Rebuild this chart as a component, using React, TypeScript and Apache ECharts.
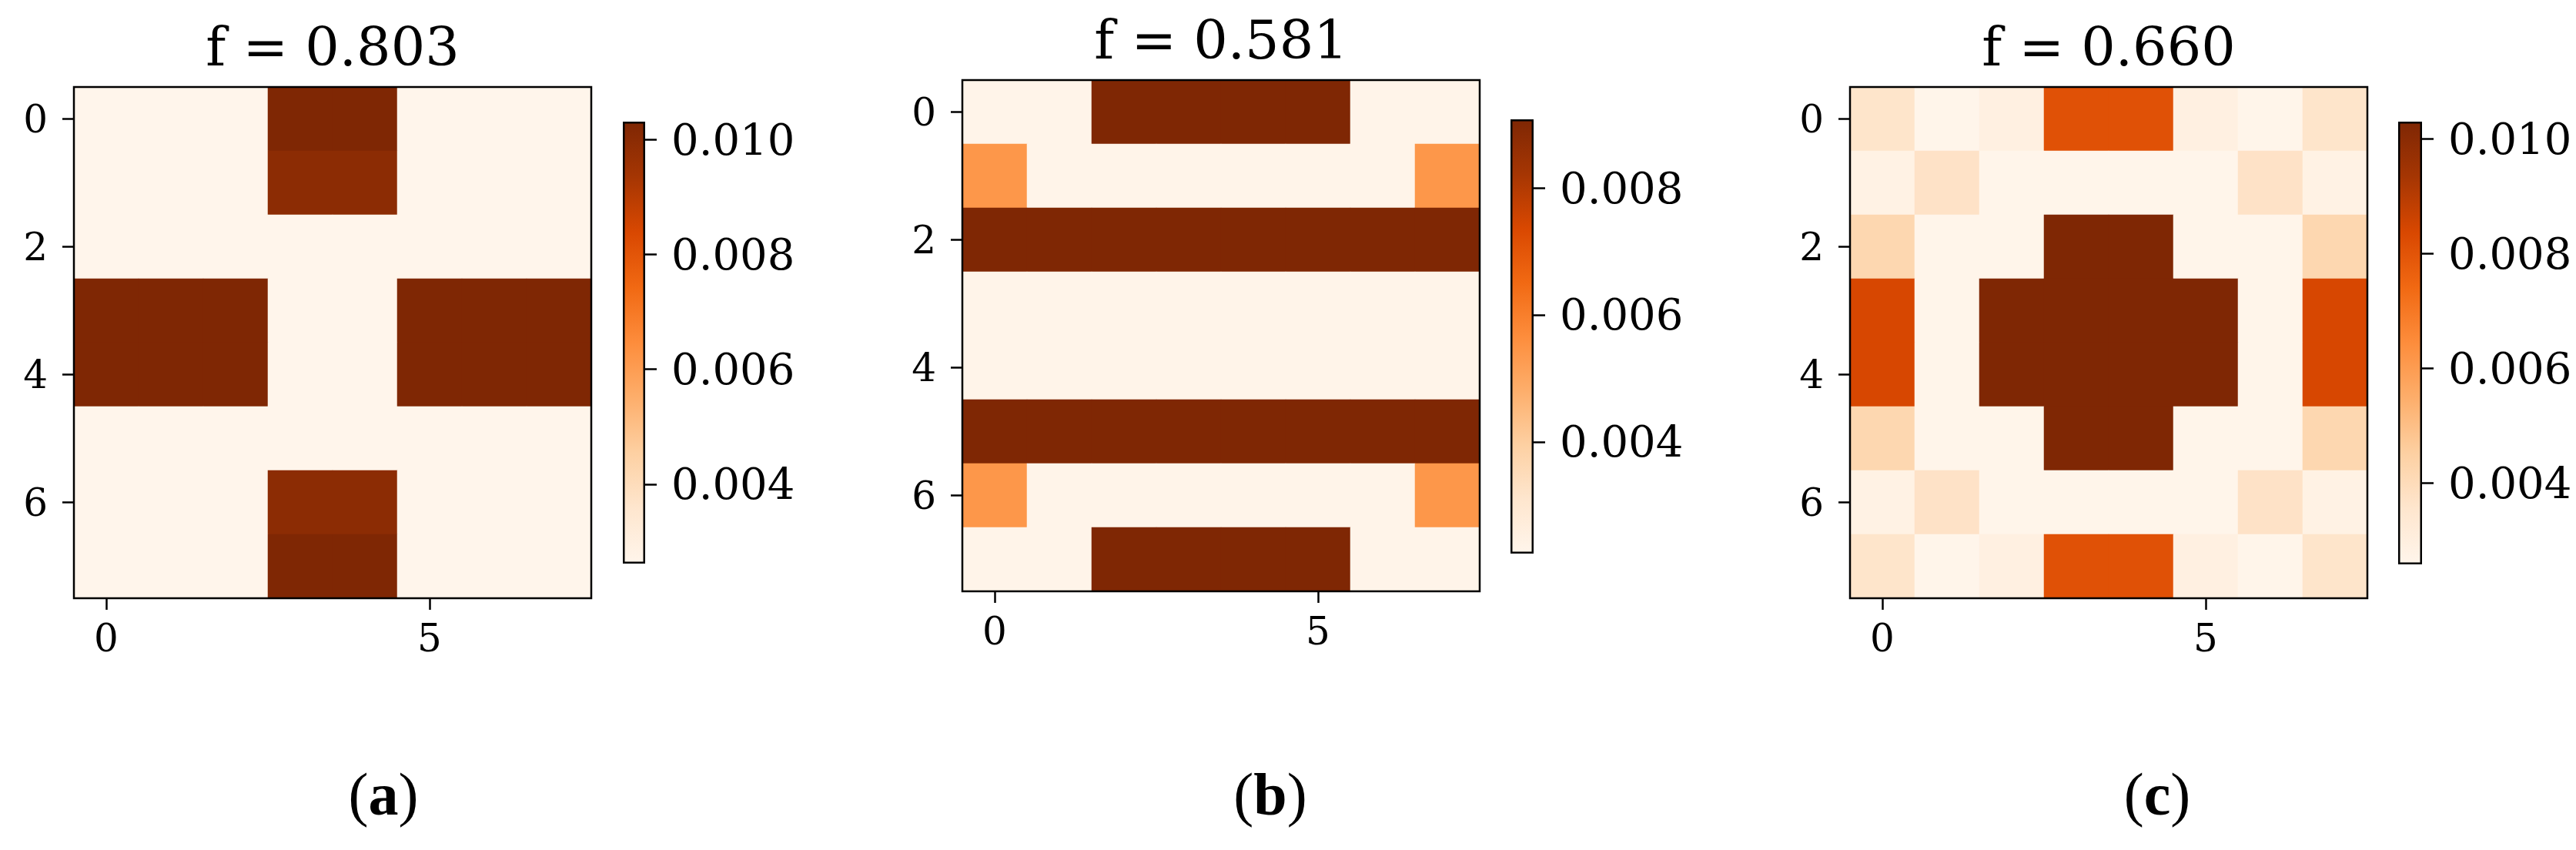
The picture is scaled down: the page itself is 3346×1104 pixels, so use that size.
import React, { useEffect, useRef } from 'react';
import * as echarts from 'echarts';

// Matplotlib "Oranges" colormap stops
const ORANGES = ['#fff5eb', '#fee6ce', '#fdd0a2', '#fdae6b', '#fd8d3c', '#f16913', '#d94801', '#a63603', '#7f2704'];

const xCategories = ['0', '1', '2', '3', '4', '5', '6', '7'];
const yCategories = ['0', '1', '2', '3', '4', '5', '6', '7'];
const xTickLabels = ['0', '5'];
const yTickLabels = ['0', '2', '4', '6'];

const titles = ['f = 0.803', 'f = 0.581', 'f = 0.660'];
const panelLetters = ['a', 'b', 'c'];

const colorbarRanges: [number, number][] = [
  [0.00262, 0.01031],
  [0.00224, 0.00908],
  [0.00258, 0.0103],
];
const colorbarTicks = [
  [0.004, 0.006, 0.008, 0.01],
  [0.004, 0.006, 0.008],
  [0.004, 0.006, 0.008, 0.01],
];

// rows top (0) -> bottom (7), columns left (0) -> right (7)
const heatA = [
  [0.0026, 0.0026, 0.0026, 0.0103, 0.0103, 0.0026, 0.0026, 0.0026],
  [0.0026, 0.0026, 0.0026, 0.01, 0.01, 0.0026, 0.0026, 0.0026],
  [0.0026, 0.0026, 0.0026, 0.0026, 0.0026, 0.0026, 0.0026, 0.0026],
  [0.0103, 0.0103, 0.0103, 0.0026, 0.0026, 0.0103, 0.0103, 0.0103],
  [0.0103, 0.0103, 0.0103, 0.0026, 0.0026, 0.0103, 0.0103, 0.0103],
  [0.0026, 0.0026, 0.0026, 0.0026, 0.0026, 0.0026, 0.0026, 0.0026],
  [0.0026, 0.0026, 0.0026, 0.01, 0.01, 0.0026, 0.0026, 0.0026],
  [0.0026, 0.0026, 0.0026, 0.0103, 0.0103, 0.0026, 0.0026, 0.0026],
];

const heatB = [
  [0.0023, 0.0023, 0.0091, 0.0091, 0.0091, 0.0091, 0.0023, 0.0023],
  [0.0054, 0.0023, 0.0023, 0.0023, 0.0023, 0.0023, 0.0023, 0.0054],
  [0.0091, 0.0091, 0.0091, 0.0091, 0.0091, 0.0091, 0.0091, 0.0091],
  [0.0023, 0.0023, 0.0023, 0.0023, 0.0023, 0.0023, 0.0023, 0.0023],
  [0.0023, 0.0023, 0.0023, 0.0023, 0.0023, 0.0023, 0.0023, 0.0023],
  [0.0091, 0.0091, 0.0091, 0.0091, 0.0091, 0.0091, 0.0091, 0.0091],
  [0.0054, 0.0023, 0.0023, 0.0023, 0.0023, 0.0023, 0.0023, 0.0054],
  [0.0023, 0.0023, 0.0091, 0.0091, 0.0091, 0.0091, 0.0023, 0.0023],
];

const heatC = [
  [0.0036, 0.0026, 0.0029, 0.0081, 0.0081, 0.0029, 0.0026, 0.0036],
  [0.0028, 0.0037, 0.0026, 0.0026, 0.0026, 0.0026, 0.0037, 0.0028],
  [0.0042, 0.0026, 0.0026, 0.0103, 0.0103, 0.0026, 0.0026, 0.0042],
  [0.0084, 0.0026, 0.0103, 0.0103, 0.0103, 0.0103, 0.0026, 0.0084],
  [0.0084, 0.0026, 0.0103, 0.0103, 0.0103, 0.0103, 0.0026, 0.0084],
  [0.0042, 0.0026, 0.0026, 0.0103, 0.0103, 0.0026, 0.0026, 0.0042],
  [0.0028, 0.0037, 0.0026, 0.0026, 0.0026, 0.0026, 0.0037, 0.0028],
  [0.0036, 0.0026, 0.0029, 0.0081, 0.0081, 0.0029, 0.0026, 0.0036],
];

const heatmaps = [heatA, heatB, heatC];

// layout (pixels) — cell sizes kept integral so adjacent cells meet without seams
const panelGrids = [
  { left: 96, top: 113, width: 672, height: 664 },
  { left: 1250, top: 104, width: 672, height: 664 },
  { left: 2403, top: 113, width: 672, height: 664 },
];
const cbGrids = [
  { left: 809, top: 158, width: 29, height: 574 },
  { left: 1962, top: 155, width: 30, height: 564 },
  { left: 3115, top: 158, width: 31, height: 575 },
];
const letterCenters = [498, 1650, 2802];
const letterY = 1031;

const SERIF = '"DejaVu Serif", serif';
const TICK_FONT = 50;
const CB_FONT = 56;
const TITLE_FONT = 70;

export default function App() {
  const ref = useRef<HTMLDivElement>(null);

  useEffect(() => {
    document.body.style.margin = '0';
    if (!ref.current) return;
    const chart = echarts.init(ref.current, undefined, { renderer: 'svg' });

    const grid: any[] = [];
    const xAxis: any[] = [];
    const yAxis: any[] = [];
    const series: any[] = [];
    const visualMap: any[] = [];
    const graphic: any[] = [];

    const tickStyle = { color: '#000', width: 2.5 };

    panelGrids.forEach((g) => {
      grid.push({
        ...g,
        show: true,
        backgroundColor: 'transparent',
        borderColor: '#000',
        borderWidth: 2.5,
        z: 10,
      });
    });
    cbGrids.forEach((g) => {
      grid.push({ ...g, show: false });
    });

    panelGrids.forEach((g, i) => {
      const xShow = (idx: number) => xTickLabels.includes(xCategories[idx]);
      const yShow = (idx: number) => yTickLabels.includes(yCategories[idx]);
      xAxis.push({
        type: 'category',
        gridIndex: i,
        data: xCategories,
        position: 'bottom',
        axisLine: { show: false },
        axisTick: { show: true, alignWithLabel: true, length: 15, interval: xShow, lineStyle: tickStyle },
        axisLabel: { interval: xShow, color: '#000', fontFamily: SERIF, fontSize: TICK_FONT, margin: 27 },
        splitLine: { show: false },
      });
      yAxis.push({
        type: 'category',
        gridIndex: i,
        data: yCategories,
        inverse: true,
        axisLine: { show: false },
        axisTick: { show: true, alignWithLabel: true, length: 15, interval: yShow, lineStyle: tickStyle },
        axisLabel: { interval: yShow, color: '#000', fontFamily: SERIF, fontSize: TICK_FONT, margin: 34 },
        splitLine: { show: false },
      });
      const [vmin, vmax] = colorbarRanges[i];
      series.push({
        type: 'heatmap',
        xAxisIndex: i,
        yAxisIndex: i,
        data: heatmaps[i].flatMap((row, r) => row.map((v, c) => [c, r, v])),
        itemStyle: { borderWidth: 0 },
        emphasis: { disabled: true },
      });
      visualMap.push({
        type: 'continuous',
        show: false,
        seriesIndex: series.length - 1,
        dimension: 2,
        min: vmin,
        max: vmax,
        inRange: { color: ORANGES },
      });
    });

    cbGrids.forEach((g, i) => {
      const gi = panelGrids.length + i;
      const [vmin, vmax] = colorbarRanges[i];
      xAxis.push({
        type: 'category',
        gridIndex: gi,
        data: ['cb'],
        show: false,
      });
      yAxis.push({
        type: 'value',
        gridIndex: gi,
        min: vmin,
        max: vmax,
        position: 'right',
        axisLine: { show: false },
        splitLine: { show: false },
        axisTick: { show: true, length: 15, customValues: colorbarTicks[i], lineStyle: tickStyle },
        axisLabel: {
          show: true,
          customValues: colorbarTicks[i],
          formatter: (v: number) => v.toFixed(3),
          color: '#000',
          fontFamily: SERIF,
          fontSize: CB_FONT,
          margin: 34,
        },
      });
      const stack = 'cb' + i;
      series.push({
        type: 'bar',
        xAxisIndex: gi,
        yAxisIndex: gi,
        stack,
        barWidth: '100%',
        data: [vmin],
        itemStyle: { color: 'rgba(0,0,0,0)' },
        silent: true,
      });
      series.push({
        type: 'bar',
        xAxisIndex: gi,
        yAxisIndex: gi,
        stack,
        barWidth: '100%',
        data: [vmax - vmin],
        silent: true,
        itemStyle: {
          color: new echarts.graphic.LinearGradient(
            0, 1, 0, 0,
            ORANGES.map((c, k) => ({ offset: k / (ORANGES.length - 1), color: c }))
          ),
          borderColor: '#000',
          borderWidth: 2.5,
        },
      });
    });

    panelGrids.forEach((g, i) => {
      graphic.push({
        type: 'text',
        x: g.left + g.width / 2,
        y: g.top - 28 - 0.346 * TITLE_FONT,
        style: {
          text: titles[i],
          font: `${TITLE_FONT}px "DejaVu Serif"`,
          fill: '#000',
          align: 'center',
          textAlign: 'center',
          verticalAlign: 'middle',
          textVerticalAlign: 'middle',
        },
      });
      graphic.push({
        type: 'text',
        x: letterCenters[i],
        y: letterY,
        style: {
          text: `{p|(}{b|${panelLetters[i]}}{p|)}`,
          align: 'center',
          textAlign: 'center',
          verticalAlign: 'middle',
          textVerticalAlign: 'middle',
          rich: {
            p: { fontFamily: '"Liberation Serif", serif', fontSize: 78, fill: '#000', color: '#000' },
            b: { fontFamily: '"Liberation Serif", serif', fontSize: 78, fontWeight: 'bold', fill: '#000', color: '#000' },
          },
        },
      });
    });

    chart.setOption({
      animation: false,
      backgroundColor: '#fff',
      grid,
      xAxis,
      yAxis,
      visualMap,
      series,
      graphic,
    });

    return () => chart.dispose();
  }, []);

  return <div ref={ref} style={{ width: 3346, height: 1104 }} />;
}
